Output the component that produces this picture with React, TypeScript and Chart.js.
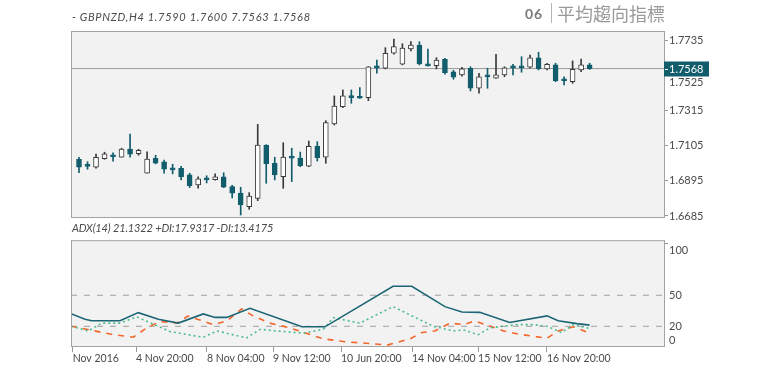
import React, { useEffect, useRef } from 'react';
import { Chart, registerables } from 'chart.js';

Chart.register(...registerables);

// ---------- DATA ----------
const candleOpen = [
  1.7025, 1.6988, 1.6977, 1.7028, 1.7046, 1.7038, 1.7086, 1.7058, 1.6941, 1.7031,
  1.7010, 1.6965, 1.6971, 1.6931, 1.6871, 1.6907, 1.6902, 1.6919, 1.6861, 1.6823,
  1.6741, 1.6791, 1.7110, 1.7001, 1.6920, 1.7038, 1.7032, 1.6984, 1.7104, 1.7037,
  1.7236, 1.7340, 1.7400, 1.7396, 1.7394, 1.7578, 1.7570, 1.7660, 1.7594, 1.7685,
  1.7709, 1.7590, 1.7585, 1.7624, 1.7549, 1.7530, 1.7570, 1.7450, 1.7525, 1.7510,
  1.7530, 1.7578, 1.7579, 1.7576, 1.7633, 1.7566, 1.7590, 1.7501, 1.7490, 1.7560,
  1.7590,
];
const candleHigh = [
  1.7037, 1.7010, 1.7056, 1.7067, 1.7064, 1.7091, 1.7176, 1.7085, 1.7070, 1.7049,
  1.7020, 1.6995, 1.6983, 1.6941, 1.6920, 1.6926, 1.6938, 1.6944, 1.6869, 1.6857,
  1.6825, 1.7234, 1.7112, 1.7037, 1.7124, 1.7091, 1.7068, 1.7134, 1.7130, 1.7256,
  1.7404, 1.7440, 1.7440, 1.7454, 1.7580, 1.7619, 1.7693, 1.7745, 1.7717, 1.7729,
  1.7729, 1.7684, 1.7633, 1.7630, 1.7558, 1.7576, 1.7579, 1.7540, 1.7570, 1.7654,
  1.7579, 1.7594, 1.7639, 1.7649, 1.7666, 1.7600, 1.7600, 1.7519, 1.7614, 1.7625,
  1.7600,
];
const candleLow = [
  1.6944, 1.6965, 1.6971, 1.7025, 1.7013, 1.7037, 1.7037, 1.7049, 1.6941, 1.6997,
  1.6941, 1.6937, 1.6901, 1.6855, 1.6851, 1.6883, 1.6899, 1.6855, 1.6793, 1.6691,
  1.6725, 1.6777, 1.6881, 1.6901, 1.6851, 1.6891, 1.6980, 1.6980, 1.7014, 1.7001,
  1.7230, 1.7334, 1.7360, 1.7389, 1.7376, 1.7540, 1.7566, 1.7654, 1.7590, 1.7673,
  1.7590, 1.7582, 1.7566, 1.7534, 1.7504, 1.7522, 1.7434, 1.7420, 1.7450, 1.7509,
  1.7519, 1.7530, 1.7546, 1.7570, 1.7560, 1.7560, 1.7490, 1.7470, 1.7480, 1.7549,
  1.7563,
];
const candleClose = [
  1.6977, 1.6982, 1.7037, 1.7058, 1.7040, 1.7086, 1.7055, 1.7079, 1.7026, 1.7001,
  1.6965, 1.6961, 1.6920, 1.6867, 1.6907, 1.6901, 1.6920, 1.6857, 1.6821, 1.6751,
  1.6805, 1.7109, 1.6998, 1.6931, 1.7038, 1.7032, 1.6986, 1.7103, 1.7034, 1.7244,
  1.7344, 1.7404, 1.7394, 1.7390, 1.7579, 1.7572, 1.7660, 1.7699, 1.7690, 1.7709,
  1.7596, 1.7584, 1.7619, 1.7543, 1.7516, 1.7567, 1.7450, 1.7519, 1.7519, 1.7530,
  1.7573, 1.7572, 1.7573, 1.7633, 1.7566, 1.7594, 1.7494, 1.7495, 1.7564, 1.7590,
  1.7568,
];

const priceTicks = [1.6685, 1.6895, 1.7105, 1.7315, 1.7525, 1.7735];

// lower panel: x positions are bar indices
const adxX = [-0.94, 0.71, 1.49, 4.82, 6.97, 9.32, 11.67, 14.6, 15.98, 17.36, 20.1, 26.2, 28.9, 36.9, 39.1, 43.0, 45.0, 47.1, 50.6, 55.0, 56.3, 58.5, 60.0];
const adxY = [32.2, 26.8, 25.3, 25.3, 33.2, 26.8, 23.1, 32.0, 28.6, 28.6, 37.4, 19.5, 19.5, 58.7, 58.7, 39.0, 33.8, 33.5, 23.7, 30.1, 25.3, 22.6, 21.1];

const plusDiX = [-0.94, 1.1, 2.66, 4.82, 6.78, 10.7, 14.6, 16.2, 19.7, 21.3, 23.2, 26.4, 28.7, 29.9, 33.0, 36.9, 41.6, 44.0, 45.2, 46.9, 48.3, 51.4, 53.4, 55.0, 56.7, 58.1, 60.0];
const plusDiY = [20.1, 15.5, 23.1, 23.1, 29.2, 14.9, 9.4, 15.5, 8.8, 17.1, 15.5, 13.4, 17.1, 28.3, 23.1, 39.0, 20.1, 15.5, 16.4, 11.9, 18.5, 21.6, 21.6, 20.1, 14.0, 21.6, 17.9];

const minusDiX = [-0.94, 0.1, 3.64, 6.38, 7.95, 9.52, 11.5, 12.8, 15.8, 17.4, 19.1, 20.3, 22.4, 24.8, 26.4, 28.7, 31.5, 34.2, 36.2, 38.9, 40.3, 41.8, 43.6, 45.2, 46.5, 48.3, 49.9, 51.6, 53.4, 55.0, 56.3, 58.1, 60.0];
const minusDiY = [20.1, 18.5, 12.5, 9.4, 18.5, 24.7, 23.1, 29.9, 21.6, 25.3, 36.8, 30.8, 23.1, 18.5, 14.0, 7.9, 4.9, 3.4, 1.8, 7.9, 14.0, 15.5, 23.1, 21.6, 25.3, 20.1, 15.5, 12.5, 10.3, 8.5, 15.5, 19.5, 13.4];

const adxLevels = [20, 50];
const adxTicks = [0, 20, 50, 100];

const timeTickPos = [-0.74, 6.7, 15.04, 22.8, 30.79, 39.13, 46.89, 54.99];
const timeTickLabels = ['Nov 2016', '4 Nov 20:00', '8 Nov 04:00', '9 Nov 12:00', '10 Jun 20:00', '14 Nov 04:00', '15 Nov 12:00', '16 Nov 20:00'];

// ---------- STYLE ----------
const X_MIN = -0.94;
const X_MAX = 68.74;
const TEAL = '#115d6c';
const DARK = '#3a3a3a';
const FONT = 'Lato';
const lastClose = candleClose[candleClose.length - 1];

const panelPlugin = {
  id: 'panelFrame',
  beforeDraw(chart: any) {
    const { ctx, chartArea: a } = chart;
    ctx.save();
    ctx.fillStyle = '#f2f2f2';
    ctx.fillRect(a.left, a.top, a.right - a.left, a.bottom - a.top);
    ctx.restore();
  },
  afterDraw(chart: any) {
    const { ctx, chartArea: a } = chart;
    ctx.save();
    ctx.strokeStyle = '#a3a3a3';
    ctx.lineWidth = 1;
    ctx.strokeRect(a.left + 0.5, a.top + 0.5, a.right - a.left, a.bottom - a.top - 1);
    ctx.restore();
  },
};

const priceTagPlugin = {
  id: 'priceTag',
  afterDraw(chart: any) {
    const { ctx, chartArea: a } = chart;
    const y = chart.scales.y.getPixelForValue(lastClose);
    ctx.save();
    ctx.fillStyle = TEAL;
    ctx.fillRect(a.right, Math.round(y) - 7.5, 45, 15);
    ctx.strokeStyle = '#ffffff';
    ctx.lineWidth = 1;
    ctx.beginPath();
    ctx.moveTo(a.right + 1, Math.round(y) + 0.5);
    ctx.lineTo(a.right + 4, Math.round(y) + 0.5);
    ctx.stroke();
    ctx.fillStyle = '#ffffff';
    ctx.font = `11px ${FONT}`;
    ctx.textBaseline = 'middle';
    ctx.textAlign = 'left';
    ctx.fillText(lastClose.toFixed(4), a.right + 5, Math.round(y) + 0.5);
    ctx.restore();
  },
};

function mainConfig(): any {
  const idx = candleOpen.map((_, i) => i);
  const bull = (i: number) => candleClose[i] > candleOpen[i];
  return {
    type: 'bar',
    data: {
      datasets: [
        {
          label: 'body',
          data: idx.map((i) => ({ x: i, y: [candleOpen[i], candleClose[i]] })),
          backgroundColor: idx.map((i) => (bull(i) ? '#ffffff' : TEAL)),
          borderColor: idx.map((i) => (bull(i) ? DARK : TEAL)),
          borderWidth: 1,
          borderSkipped: false,
          barThickness: 5,
          minBarLength: 2,
          grouped: false,
          order: 0,
        },
        {
          label: 'wick',
          data: idx.map((i) => ({ x: i, y: [candleLow[i], candleHigh[i]] })),
          backgroundColor: idx.map((i) => (bull(i) ? DARK : TEAL)),
          borderWidth: 0,
          barThickness: 1,
          grouped: false,
          order: 1,
        },
        {
          type: 'line',
          label: 'last',
          data: [
            { x: X_MIN, y: lastClose },
            { x: X_MAX, y: lastClose },
          ],
          borderColor: '#9a9a9a',
          borderWidth: 1,
          pointRadius: 0,
          order: 2,
        },
      ],
    },
    options: {
      responsive: false,
      maintainAspectRatio: false,
      animation: false,
      events: [],
      layout: { padding: { left: 71, top: 31, right: 52, bottom: 8 } },
      plugins: { legend: { display: false }, tooltip: { enabled: false } },
      scales: {
        x: {
          type: 'linear',
          display: false,
          min: X_MIN,
          max: X_MAX,
          offset: false,
          grid: { offset: false },
        },
        y: {
          type: 'linear',
          position: 'right',
          min: 1.6673,
          max: 1.7793,
          beginAtZero: false,
          border: { display: false },
          grid: { drawOnChartArea: false, drawTicks: true, tickLength: 4, tickColor: '#9a9a9a' },
          afterBuildTicks: (s: any) => {
            s.ticks = priceTicks.map((v) => ({ value: v }));
          },
          afterFit: (s: any) => {
            s.width = 50;
          },
          ticks: {
            autoSkip: false,
            padding: 1,
            color: '#4a4a4a',
            font: { family: FONT, size: 11 },
            callback: (v: number) => (Math.abs(v - 1.7525) < 1e-6 ? ['', v.toFixed(4)] : v.toFixed(4)),
          },
        },
      },
    },
    plugins: [panelPlugin, priceTagPlugin],
  };
}

function adxConfig(): any {
  const pts = (xs: number[], ys: number[]) => xs.map((x, i) => ({ x, y: ys[i] }));
  return {
    type: 'line',
    data: {
      datasets: [
        {
          label: 'ADX',
          data: pts(adxX, adxY),
          borderColor: '#1b6574',
          borderWidth: 1.6,
          pointRadius: 0,
          tension: 0,
          order: 0,
        },
        {
          label: '+DI',
          data: pts(plusDiX, plusDiY),
          borderColor: '#4cbb8a',
          borderWidth: 1.6,
          borderDash: [2, 3],
          pointRadius: 0,
          tension: 0,
          order: 1,
        },
        {
          label: '-DI',
          data: pts(minusDiX, minusDiY),
          borderColor: '#f2662a',
          borderWidth: 1.6,
          borderDash: [6, 6],
          pointRadius: 0,
          tension: 0,
          order: 2,
        },
        ...adxLevels.map((lv) => ({
          label: 'level' + lv,
          data: [
            { x: X_MIN, y: lv },
            { x: X_MAX, y: lv },
          ],
          borderColor: '#a0a0a0',
          borderWidth: 1,
          borderDash: [6, 7],
          pointRadius: 0,
          order: 3,
        })),
      ],
    },
    options: {
      responsive: false,
      maintainAspectRatio: false,
      animation: false,
      events: [],
      layout: { padding: { left: 71, top: 8, right: 52, bottom: 6 } },
      plugins: { legend: { display: false }, tooltip: { enabled: false } },
      scales: {
        x: {
          type: 'linear',
          min: X_MIN,
          max: X_MAX,
          offset: false,
          border: { display: false },
          grid: { drawOnChartArea: false, drawTicks: true, tickLength: 5, color: '#9a9a9a', offset: false },
          afterBuildTicks: (s: any) => {
            s.ticks = timeTickPos.map((v) => ({ value: v }));
          },
          afterFit: (s: any) => {
            s.height = 22;
          },
          ticks: {
            autoSkip: false,
            maxRotation: 0,
            minRotation: 0,
            align: 'start',
            padding: 0,
            color: '#4a4a4a',
            font: { family: FONT, size: 10.5 },
            callback: (_v: number, i: number) => timeTickLabels[i],
          },
        },
        y: {
          type: 'linear',
          position: 'right',
          min: 0,
          max: 103.2,
          border: { display: false },
          grid: {
            drawOnChartArea: false,
            drawTicks: true,
            tickLength: 4,
            tickColor: (c: any) => (c.tick && c.tick.value === 100 ? '#9a9a9a' : 'rgba(0,0,0,0)'),
          },
          afterBuildTicks: (s: any) => {
            s.ticks = adxTicks.map((v) => ({ value: v }));
          },
          afterFit: (s: any) => {
            s.width = 50;
          },
          ticks: {
            autoSkip: false,
            padding: 1,
            color: '#4a4a4a',
            font: { family: FONT, size: 11 },
            callback: (v: number) => (v === 100 ? ['', '100'] : v === 0 ? ['0', ''] : String(v)),
          },
        },
      },
    },
    plugins: [panelPlugin],
  };
}

export default function App() {
  const mainRef = useRef<HTMLCanvasElement>(null);
  const adxRef = useRef<HTMLCanvasElement>(null);

  useEffect(() => {
    const c1 = new Chart(mainRef.current as HTMLCanvasElement, mainConfig());
    const c2 = new Chart(adxRef.current as HTMLCanvasElement, adxConfig());
    return () => {
      c1.destroy();
      c2.destroy();
    };
  }, []);

  const italic: React.CSSProperties = {
    position: 'absolute',
    fontFamily: FONT,
    fontStyle: 'italic',
    fontSize: 11,
    lineHeight: '13px',
    color: '#4a4a4a',
    whiteSpace: 'nowrap',
  };

  return (
    <div style={{ position: 'absolute', left: 0, top: 0, width: 766, height: 375, background: '#ffffff', overflow: 'hidden' }}>
      <canvas ref={mainRef} width={766} height={226} style={{ position: 'absolute', left: 0, top: 0, display: 'block' }} />
      <canvas ref={adxRef} width={766} height={149} style={{ position: 'absolute', left: 0, top: 226, display: 'block' }} />
      <div style={{ ...italic, left: 72, top: 10, letterSpacing: 0.7 }}>- GBPNZD,H4 1.7590 1.7600 7.7563 1.7568</div>
      <div style={{ ...italic, left: 72, top: 221, letterSpacing: -0.15 }}>ADX(14) 21.1322 +DI:17.9317 -DI:13.4175</div>
      <div
        style={{
          position: 'absolute',
          left: 525,
          top: 7,
          fontFamily: FONT,
          fontWeight: 700,
          fontSize: 14,
          lineHeight: '14px',
          letterSpacing: 1,
          color: '#7a7a7a',
        }}
      >
        06
      </div>
      <div style={{ position: 'absolute', left: 551, top: 3, width: 1, height: 20, background: '#b5b5b5' }} />
      <div
        style={{
          position: 'absolute',
          left: 557,
          top: 4,
          fontFamily: '"Noto Sans CJK TC"',
          fontSize: 18,
          lineHeight: '18px',
          color: '#9a9a9a',
          whiteSpace: 'nowrap',
        }}
      >
        平均趨向指標
      </div>
    </div>
  );
}
